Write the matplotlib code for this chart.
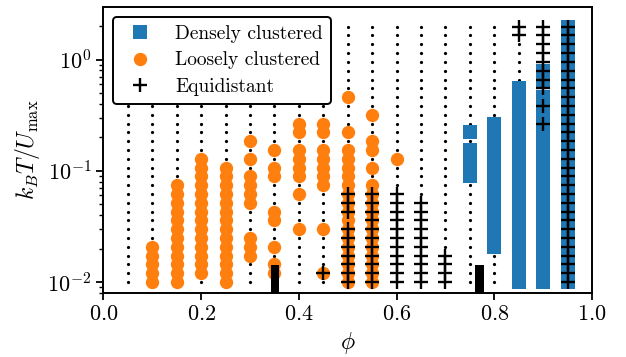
import matplotlib
matplotlib.use('Agg')
import matplotlib.pyplot as plt

plt.rcParams.update({
    'font.family': 'serif',
    'font.serif': ['cmr10'],
    'mathtext.fontset': 'cm',
    'axes.formatter.use_mathtext': True,
    'axes.unicode_minus': False,
    'axes.linewidth': 1.4,
    'xtick.major.width': 1.3, 'ytick.major.width': 1.3,
    'ytick.minor.width': 1.0,
    'xtick.major.size': 5, 'ytick.major.size': 5, 'ytick.minor.size': 3,
})

# packing fraction of each simulated column
phi = [0.05, 0.10, 0.15, 0.20, 0.25, 0.30, 0.35, 0.40, 0.45, 0.50,
       0.55, 0.60, 0.65, 0.70, 0.75, 0.80, 0.85, 0.90, 0.95]

# temperature levels kBT/Umax (lowest first)
T = [0.0100, 0.0120, 0.0144, 0.0173, 0.0207, 0.0249, 0.0299, 0.0358, 0.0430, 0.0516,
     0.0619, 0.0743, 0.0892, 0.107, 0.128, 0.154, 0.185, 0.222, 0.266, 0.319,
     0.383, 0.460, 0.552, 0.662, 0.795, 0.954, 1.14, 1.37, 1.65, 1.98]

# state at each T level, one string per phi column
# '.' nothing, 'o' loosely, 's' densely, '+' equidistant,
# 'x' loosely + equidistant, 'b' densely + equidistant
states = [
    "..............................",
    "ooooo.........................",
    "oooooooooooo..................",
    ".oooooooooooooo...............",
    "oooooooooooooo................",
    "...ooo...oooo.o.o.............",
    ".oo.o..oo...oo.o..............",
    "......o...o.oooo.oo...........",
    ".x....o....ooooo.oo...........",
    "xxxxxxxoxxxooooo.o...o........",
    "xxxxxxxxxxxo.o.oo..o..........",
    "+++++++++++...o...............",
    "++++++++++....................",
    "++++..........................",
    "............ssss.s............",
    "....sssssssssssssss...........",
    "sssssssssssssssssssssss.....++",
    "ssssssssssssssssssbsbs+bb+++++",
    "bbbbbbbbbbbbbbbbbbbbbbbbbbbbbb",
]

# black marks at the bottom
bar_phi = [0.351, 0.770]
bar_top = 0.0141

dots, loose, dense, equi = ([], []), ([], []), ([], []), ([], [])
for p, col in zip(phi, states):
    for t, c in zip(T, col):
        if c == '.':
            dots[0].append(p); dots[1].append(t)
        if c in 'ox':
            loose[0].append(p); loose[1].append(t)
        if c in 'sb':
            dense[0].append(p); dense[1].append(t)
        if c in '+xb':
            equi[0].append(p); equi[1].append(t)

fig, ax = plt.subplots(figsize=(6.26, 3.57), dpi=100)
ax.set_position([0.1653, 0.180, 0.7804, 0.7997])

ax.plot(dots[0], dots[1], 'ko', ms=2.3, mew=0, zorder=1)
hl, = ax.plot(loose[0], loose[1], 'o', color='tab:orange', ms=9.6, mew=0, zorder=3,
              label='Loosely clustered')
hd, = ax.plot(dense[0], dense[1], 's', color='tab:blue', ms=10, mew=0, zorder=3,
              label='Densely clustered')
ax.bar(bar_phi, [bar_top - 0.001] * 2, width=0.017, bottom=0.001, color='k', zorder=3.5)
he, = ax.plot(equi[0], equi[1], 'k+', ms=9.5, mew=1.7, zorder=4, label='Equidistant')

ax.set_yscale('log')
ax.set_xlim(0, 1)
ax.set_ylim(0.008, 2.96)
ax.tick_params(labelsize=16)
ax.set_xlabel(r'$\phi$', fontsize=17)
ax.set_ylabel(r'$k_BT/U_\mathrm{max}$', fontsize=17)

leg = ax.legend(handles=[hd, hl, he], loc='upper left', fontsize=14,
                framealpha=1, edgecolor='k', labelspacing=0.45)
leg.get_frame().set_linewidth(1.4)
leg.set_zorder(10)

fig.savefig('out.png', dpi=100)
